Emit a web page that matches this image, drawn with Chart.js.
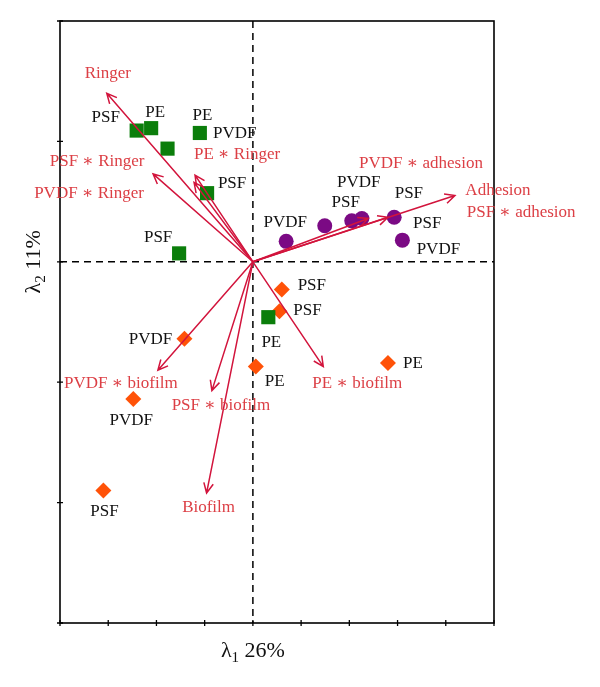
<!DOCTYPE html>
<html>
<head>
<meta charset="utf-8">
<script src="https://cdn.jsdelivr.net/npm/chart.js@4"></script>
<style>
  body { margin: 0; background: #fff; }
</style>
</head>
<body>
<canvas id="biplot" width="600" height="687"></canvas>
<script>
// Scores (lambda1, lambda2)
const ringerPts = [
  { x: -2.41, y: 1.09 }, { x: -2.11, y: 1.11 }, { x: -1.10, y: 1.07 },
  { x: -1.77, y: 0.94 }, { x: -0.95, y: 0.57 }, { x: -1.53, y: 0.07 },
  { x: 0.32, y: -0.46 }
];
const ringerNames = ['PSF', 'PE', 'PVDF', 'PE', 'PSF', 'PSF', 'PE'];

const adhesionPts = [
  { x: 0.69, y: 0.17 }, { x: 1.49, y: 0.30 }, { x: 2.05, y: 0.34 },
  { x: 2.26, y: 0.36 }, { x: 2.93, y: 0.37 }, { x: 3.10, y: 0.18 }
];
const adhesionNames = ['PVDF', 'PSF', 'PVDF', 'PSF', 'PSF', 'PVDF'];

const biofilmPts = [
  { x: 0.60, y: -0.23 }, { x: 0.55, y: -0.41 }, { x: -1.42, y: -0.64 },
  { x: 0.06, y: -0.87 }, { x: 2.80, y: -0.84 }, { x: -2.48, y: -1.14 },
  { x: -3.10, y: -1.90 }
];
const biofilmNames = ['PSF', 'PSF', 'PVDF', 'PE', 'PE', 'PVDF', 'PSF'];

// Loadings (arrow tips)
const arrowNames = [
  'Ringer', 'PSF ∗ Ringer', 'PE ∗ Ringer', 'PVDF ∗ Ringer',
  'Adhesion', 'PVDF ∗ adhesion', 'PSF ∗ adhesion',
  'PVDF ∗ biofilm', 'PSF ∗ biofilm', 'Biofilm', 'PE ∗ biofilm'
];
const arrowX = [-3.03, -2.07, -1.20, -1.22, 4.19, 2.80, 2.39, -1.97, -0.85, -0.96, 1.46];
const arrowY = [1.40, 0.73, 0.72, 0.66, 0.55, 0.37, 0.36, -0.90, -1.07, -1.92, -0.87];

const xTicks = [-4, -3, -2, -1, 0, 1, 2, 3, 4, 5];
const yTicks = [-3, -2, -1, 0, 1, 2];

// label placement (pixel offsets from the mark)
const ringerOff = [[-31, -13], [4, -16], [35, 1], [35, -33], [25, -10], [-21, -16], [3, 25]];
const adhesionOff = [[-1, -19], [21, -23], [7, -38], [47, -25], [33, 6], [36, 9]];
const biofilmOff = [[30, -4], [28, -1], [-34, 1], [19, 15], [25, 1], [-2, 21], [1, 21]];
const arrowOff = [[1, -20], [-56, -12], [42, -21], [-105, 11], [43, -5], [33, -54], [153, -6],
                  [-37, 13], [9, 15], [2, 15], [34, 17]];

const FONT = '"Liberation Serif", "DejaVu Serif", serif';
const ARROW_COLOR = '#d2143c';
const ARROW_TEXT = '#dc3f45';

const biplotPlugin = {
  id: 'biplot',
  beforeDatasetsDraw(chart) {
    const { ctx, chartArea: a, scales: { x, y } } = chart;
    ctx.save();
    // dashed zero lines
    ctx.strokeStyle = '#000';
    ctx.lineWidth = 1.5;
    ctx.setLineDash([7, 5]);
    ctx.beginPath();
    ctx.moveTo(x.getPixelForValue(0), a.top);
    ctx.lineTo(x.getPixelForValue(0), a.bottom);
    ctx.moveTo(a.left, y.getPixelForValue(0));
    ctx.lineTo(a.right, y.getPixelForValue(0));
    ctx.stroke();
    ctx.setLineDash([]);
    // frame
    ctx.lineWidth = 1.6;
    ctx.strokeRect(a.left, a.top, a.right - a.left, a.bottom - a.top);
    // tick marks
    ctx.lineWidth = 1.3;
    ctx.beginPath();
    xTicks.forEach(v => {
      const px = x.getPixelForValue(v);
      ctx.moveTo(px, a.bottom - 3);
      ctx.lineTo(px, a.bottom + 3);
    });
    yTicks.forEach(v => {
      const py = y.getPixelForValue(v);
      ctx.moveTo(a.left - 3, py);
      ctx.lineTo(a.left + 3, py);
    });
    ctx.stroke();
    ctx.restore();
  },
  afterDatasetsDraw(chart) {
    const { ctx, chartArea: a, scales: { x, y } } = chart;
    const ox = x.getPixelForValue(0), oy = y.getPixelForValue(0);
    ctx.save();
    // arrows
    ctx.strokeStyle = ARROW_COLOR;
    ctx.lineWidth = 1.5;
    arrowX.forEach((v, i) => {
      const tx = x.getPixelForValue(v), ty = y.getPixelForValue(arrowY[i]);
      const ang = Math.atan2(ty - oy, tx - ox);
      const len = 11, spread = 0.45;
      ctx.beginPath();
      ctx.moveTo(ox, oy);
      ctx.lineTo(tx, ty);
      ctx.moveTo(tx - len * Math.cos(ang - spread), ty - len * Math.sin(ang - spread));
      ctx.lineTo(tx, ty);
      ctx.lineTo(tx - len * Math.cos(ang + spread), ty - len * Math.sin(ang + spread));
      ctx.stroke();
    });
    // arrow labels
    ctx.font = '17px ' + FONT;
    ctx.textAlign = 'center';
    ctx.textBaseline = 'middle';
    ctx.fillStyle = ARROW_TEXT;
    arrowNames.forEach((t, i) => {
      ctx.fillText(t, x.getPixelForValue(arrowX[i]) + arrowOff[i][0],
                      y.getPixelForValue(arrowY[i]) + arrowOff[i][1]);
    });
    // point labels
    ctx.fillStyle = '#111';
    const groups = [[ringerPts, ringerNames, ringerOff], [adhesionPts, adhesionNames, adhesionOff],
                    [biofilmPts, biofilmNames, biofilmOff]];
    groups.forEach(([pts, names, off]) => {
      pts.forEach((p, i) => {
        ctx.fillText(names[i], x.getPixelForValue(p.x) + off[i][0], y.getPixelForValue(p.y) + off[i][1]);
      });
    });
    // axis titles: lambda with subscript
    const drawTitle = (sub, rest, cx, cy) => {
      ctx.textAlign = 'left';
      ctx.textBaseline = 'alphabetic';
      ctx.font = '22px ' + FONT;
      const wL = ctx.measureText('λ').width;
      const wR = ctx.measureText(rest).width;
      ctx.font = '15px ' + FONT;
      const wS = ctx.measureText(sub).width;
      const sx = cx - (wL + wS + wR) / 2;
      ctx.font = '22px ' + FONT;
      ctx.fillText('λ', sx, cy);
      ctx.fillText(rest, sx + wL + wS, cy);
      ctx.font = '15px ' + FONT;
      ctx.fillText(sub, sx + wL, cy + 5);
    };
    ctx.fillStyle = '#111';
    drawTitle('1', ' 26%', ox, a.bottom + 34);
    ctx.translate(40, oy);
    ctx.rotate(-Math.PI / 2);
    drawTitle('2', ' 11%', 0, 0);
    ctx.restore();
  }
};

new Chart(document.getElementById('biplot'), {
  type: 'scatter',
  data: {
    datasets: [
      { label: 'Ringer', data: ringerPts, pointStyle: 'rect', pointRadius: 10,
        backgroundColor: '#0b7e0b', borderWidth: 0 },
      { label: 'Adhesion', data: adhesionPts, pointStyle: 'circle', pointRadius: 7.5,
        backgroundColor: '#7b0a84', borderWidth: 0 },
      { label: 'Biofilm', data: biofilmPts, pointStyle: 'rectRot', pointRadius: 8,
        backgroundColor: '#ff5208', borderWidth: 0 }
    ]
  },
  options: {
    responsive: false,
    animation: false,
    layout: { padding: { left: 60, top: 21, right: 106, bottom: 64 } },
    scales: {
      x: { type: 'linear', min: -4, max: 5, display: false },
      y: { type: 'linear', min: -3, max: 2, display: false }
    },
    plugins: {
      legend: { display: false },
      tooltip: { enabled: false }
    }
  },
  plugins: [biplotPlugin]
});
</script>
</body>
</html>
